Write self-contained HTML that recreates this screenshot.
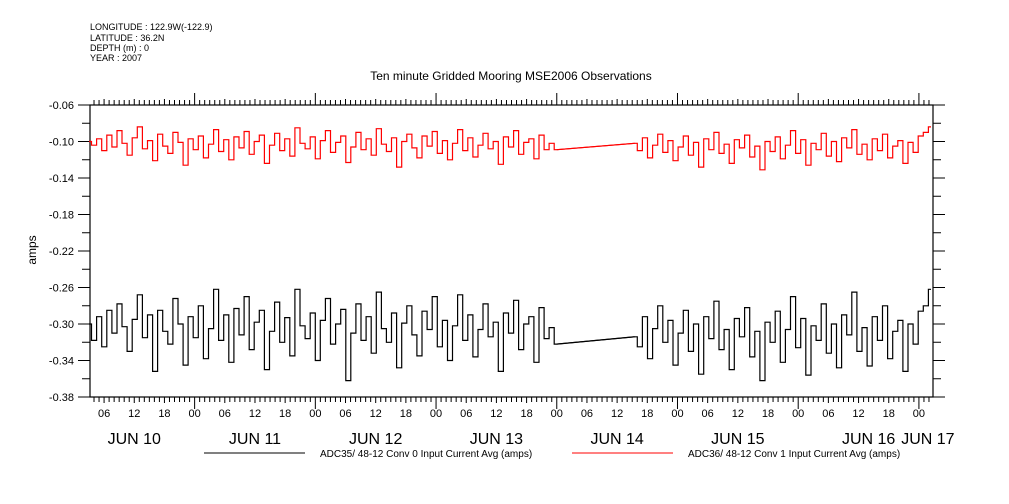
<!DOCTYPE html>
<html><head><meta charset="utf-8"><style>
body{margin:0;background:#fff;width:1009px;height:504px;overflow:hidden}
svg{display:block;font-family:"Liberation Sans",sans-serif}
</style></head><body>
<svg id="chart" width="1009" height="504" xmlns="http://www.w3.org/2000/svg">
<g font-size="9" fill="#000">
<text x="90" y="30">LONGITUDE : 122.9W(-122.9)</text>
<text x="90" y="41">LATITUDE : 36.2N</text>
<text x="90" y="51">DEPTH (m) : 0</text>
<text x="90" y="61">YEAR : 2007</text>
</g>
<text x="511" y="80" font-size="12" text-anchor="middle">Ten minute Gridded Mooring MSE2006 Observations</text>
<text x="0" y="0" font-size="12" text-anchor="middle" transform="translate(36,250) rotate(-90)">amps</text>
<g id="axes"></g>
<g id="series"></g>
<g font-size="10">
<line x1="204" y1="453" x2="305" y2="453" stroke="#000"/>
<text x="320" y="457">ADC35/ 48-12 Conv 0 Input Current Avg (amps)</text>
<line x1="572" y1="453" x2="673" y2="453" stroke="#f00"/>
<text x="688" y="457">ADC36/ 48-12 Conv 1 Input Current Avg (amps)</text>
</g>
</svg>
<script>
// hours since JUN 10 00:00
const seg1Hours=[3,96];
const seg2Hours=[111.5,170.4];
const redSeg1=[-100,-104,-97,-110,-93,-106,-88,-102,-115,-96,-84,-108,-99,-121,-92,-105,-113,-90,-101,-126,-97,-109,-94,-118,-103,-87,-111,-98,-120,-95,-107,-89,-114,-100,-93,-124,-104,-91,-110,-97,-116,-85,-102,-108,-95,-119,-99,-88,-112,-101,-94,-123,-106,-90,-109,-97,-115,-86,-103,-111,-96,-128,-100,-92,-107,-118,-94,-105,-89,-113,-99,-120,-102,-87,-110,-96,-117,-104,-91,-108,-100,-125,-95,-106,-88,-114,-101,-97,-119,-93,-109,-102,-109];
const redSeg2=[-102,-110,-96,-118,-104,-92,-112,-99,-121,-106,-94,-115,-101,-128,-97,-109,-90,-113,-103,-124,-98,-107,-93,-117,-105,-131,-100,-111,-95,-119,-104,-88,-113,-98,-126,-102,-109,-91,-116,-100,-122,-96,-107,-87,-114,-103,-120,-97,-110,-92,-118,-105,-99,-124,-101,-112,-94,-90,-84];
const blackSeg1=[-300,-318,-292,-325,-285,-310,-278,-303,-330,-295,-268,-315,-290,-352,-285,-308,-322,-272,-300,-345,-292,-315,-280,-338,-305,-262,-318,-290,-342,-283,-312,-270,-328,-298,-285,-350,-308,-276,-320,-293,-335,-262,-302,-316,-288,-340,-296,-272,-322,-300,-284,-362,-310,-278,-318,-292,-332,-265,-305,-320,-288,-348,-299,-280,-312,-335,-286,-306,-270,-325,-296,-340,-302,-268,-318,-290,-336,-306,-278,-314,-298,-352,-288,-310,-274,-328,-300,-292,-342,-282,-316,-304,-322];
const blackSeg2=[-314,-325,-292,-338,-305,-280,-320,-296,-345,-310,-285,-330,-300,-355,-292,-316,-275,-328,-306,-350,-294,-314,-282,-336,-308,-362,-298,-320,-286,-342,-306,-270,-326,-294,-356,-302,-318,-278,-332,-300,-348,-290,-312,-265,-330,-304,-346,-292,-318,-280,-338,-308,-296,-352,-300,-322,-286,-280,-262];
const yTickLabels=["-0.06","-0.10","-0.14","-0.18","-0.22","-0.26","-0.30","-0.34","-0.38"];
const hourLabels=["06","12","18","00"];
const dayLabels=["JUN 10","JUN 11","JUN 12","JUN 13","JUN 14","JUN 15","JUN 16","JUN 17"];

const X0=90,X1=933,Y0=105,Y1=397,H0=3.2,H1=170.8,V0=-0.06,V1=-0.38;
const NS="http://www.w3.org/2000/svg";
function xs(h){return X0+(h-H0)/(H1-H0)*(X1-X0);}
function ys(v){return Y0+(v-V0)/(V1-V0)*(Y1-Y0);}
function mk(tag,attrs,parent){const e=document.createElementNS(NS,tag);for(const k in attrs)e.setAttribute(k,attrs[k]);parent.appendChild(e);return e;}
const ax=document.getElementById('axes');
const fr=mk('rect',{x:X0,y:Y0,width:X1-X0,height:Y1-Y0,fill:'none',stroke:'#000','stroke-width':1.2},ax);


for(let i=0;i<=16;i++){
  const v=V0-i*0.02,y=ys(v),major=i%2===0;
  const len=major?12:8;
  const t=mk('path',{d:`M${X0-len} ${y}H${X0}M${X1} ${y}H${X1+len}`,stroke:'#000','stroke-width':1},ax);
  
  
  if(major){
    const tx=mk('text',{x:X0-16,y:y+4,'font-size':11,'text-anchor':'end'},ax);
    tx.textContent=yTickLabels[i/2];
    
    
  }
}
for(let h=Math.ceil(H0);h<=H1;h++){
  const x=xs(h),day=h%24===0,six=h%6===0;
  const len=day?12:(six?6:5);
  const t=mk('path',{d:`M${x} ${Y1}v${len}M${x} ${Y0}v${-len}`,stroke:'#000','stroke-width':1},ax);
  
  
  if(six){
    const tx=mk('text',{x:x,y:Y1+20,'font-size':11,'text-anchor':'middle'},ax);
    tx.textContent=hourLabels[(h%24)/6===0?3:(h%24)/6-1];
    
    
  }
}
for(let d=0;d<dayLabels.length;d++){
  let x=xs(d*24+12);
  if(d===6)x=xs(d*24+14);
  if(d===7)x=xs(d*24-1)+14;
  const tx=mk('text',{x:x,y:Y1+47,'font-size':16,'text-anchor':'middle'},ax);
  tx.textContent=dayLabels[d];
  
  
}
const sg=document.getElementById('series');
function pts(seg,hrs){const n=seg.length;return seg.map((v,i)=>[xs(hrs[0]+i*(hrs[1]-hrs[0])/(n-1)),ys(v/1000)]);}
function stepPath(p){
  let d='M'+p[0][0].toFixed(1)+' '+p[0][1].toFixed(1);
  for(let i=1;i<p.length;i++){
    const mx=((p[i-1][0]+p[i][0])/2).toFixed(1);
    d+='H'+mx+'V'+p[i][1].toFixed(1);
  }
  return d+'H'+p[p.length-1][0].toFixed(1);
}
function draw(s1,s2,color,name){
  const a=pts(s1,seg1Hours),b=pts(s2,seg2Hours);
  const d=stepPath(a)+'L'+b[0][0].toFixed(1)+' '+b[0][1].toFixed(1)+stepPath(b).replace(/^M/,'M');
  const l=mk('path',{d:d,fill:'none',stroke:color,'stroke-width':1.2},sg);
  
  
  const g=mk('line',{x1:a[a.length-1][0],y1:a[a.length-1][1],x2:b[0][0],y2:b[0][1],stroke:color,'stroke-width':1.2},sg);
  
  
}
draw(blackSeg1,blackSeg2,'#000','series-adc35');
draw(redSeg1,redSeg2,'#f00','series-adc36');
</script>
</body></html>
